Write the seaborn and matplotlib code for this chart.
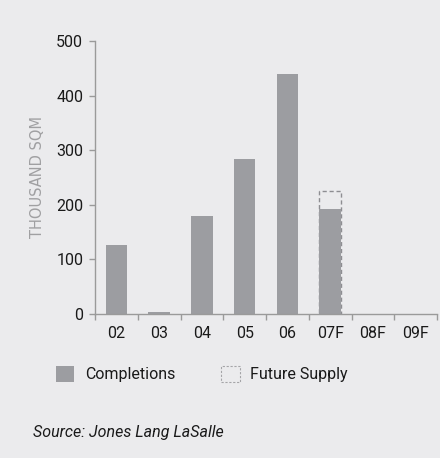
import matplotlib
matplotlib.use("Agg")
import matplotlib.pyplot as plt
import seaborn as sns
import numpy as np
from matplotlib.patches import Patch

# Office supply, thousand sqm
years = ["02", "03", "04", "05", "06", "07F", "08F", "09F"]
completions = [126, 3, 180, 284, 440, 192, np.nan, np.nan]
future_supply = [np.nan, np.nan, np.nan, np.nan, np.nan, 225, np.nan, np.nan]
y_ticks = [0, 100, 200, 300, 400, 500]

sns.set_theme(style="white")
plt.rcParams["font.family"] = ["Roboto", "DejaVu Sans"]

bg = "#EBEBED"
bar_color = "#9C9DA1"
axis_color = "#9A9A9A"
text_color = "#1A1A1A"
label_size = 11.5

fig = plt.figure(figsize=(4.4, 4.58), dpi=100, facecolor=bg)
ax = fig.add_axes([95 / 440, 144 / 458, 342 / 440, 273 / 458])
ax.set_facecolor(bg)

# dashed outline for future supply, then the solid completions bars
sns.barplot(x=years, y=future_supply, order=years, ax=ax, color="#8E8E92",
            fill=False, width=0.5, linewidth=1.0, linestyle=(0, (3, 2)),
            errorbar=None)
sns.barplot(x=years, y=completions, order=years, ax=ax, color=bar_color,
            saturation=1, width=0.5, linewidth=0, errorbar=None)

ax.set_xlim(-0.5, 7.5)
ax.set_ylim(0, 500)

# tick marks between categories, labels centred on bars
ax.set_xticks(np.arange(-0.5, 8, 1))
ax.set_xticklabels([])
ax.set_xticks(range(len(years)), minor=True)
ax.set_xticklabels(years, minor=True)
ax.tick_params(axis="x", which="major", length=4, width=1, color=axis_color,
               direction="out", bottom=True)
ax.tick_params(axis="x", which="minor", length=0, pad=9, labelsize=label_size,
               labelcolor=text_color, bottom=True)

ax.set_yticks(y_ticks)
ax.set_yticklabels([str(v) for v in y_ticks])
ax.tick_params(axis="y", length=4.5, width=1, color=axis_color, pad=4,
               labelsize=label_size, labelcolor=text_color, left=True,
               direction="out")

for side in ("top", "right"):
    ax.spines[side].set_visible(False)
for side in ("left", "bottom"):
    ax.spines[side].set_color(axis_color)
    ax.spines[side].set_linewidth(1)

ax.set_xlabel("")
ax.set_ylabel("")
fig.text(38 / 440, (458 - 177.5) / 458, "THOUSAND SQM", rotation=90,
         ha="center", va="center", color="#A0A0A2", fontsize=10.5,
         family=["DejaVu Sans"])

handles = [
    Patch(facecolor=bar_color, edgecolor="none"),
    Patch(facecolor="none", edgecolor="#A5A5A8", linestyle=(0, (2, 1.5)),
          linewidth=0.8),
]
fig.legend(handles, ["Completions", "Future Supply"], loc="center left",
           bbox_to_anchor=(56 / 440, (458 - 374) / 458), ncol=2, frameon=False,
           borderpad=0, borderaxespad=0, handlelength=1.15, handleheight=1.2,
           handletextpad=0.65, columnspacing=2.9, fontsize=label_size,
           labelcolor=text_color)

fig.text(33 / 440, (458 - 433) / 458, "Source: Jones Lang LaSalle",
         style="italic", fontsize=11.5, ha="left", va="center",
         color=text_color)

fig.savefig("out.png", dpi=100, facecolor=bg)
